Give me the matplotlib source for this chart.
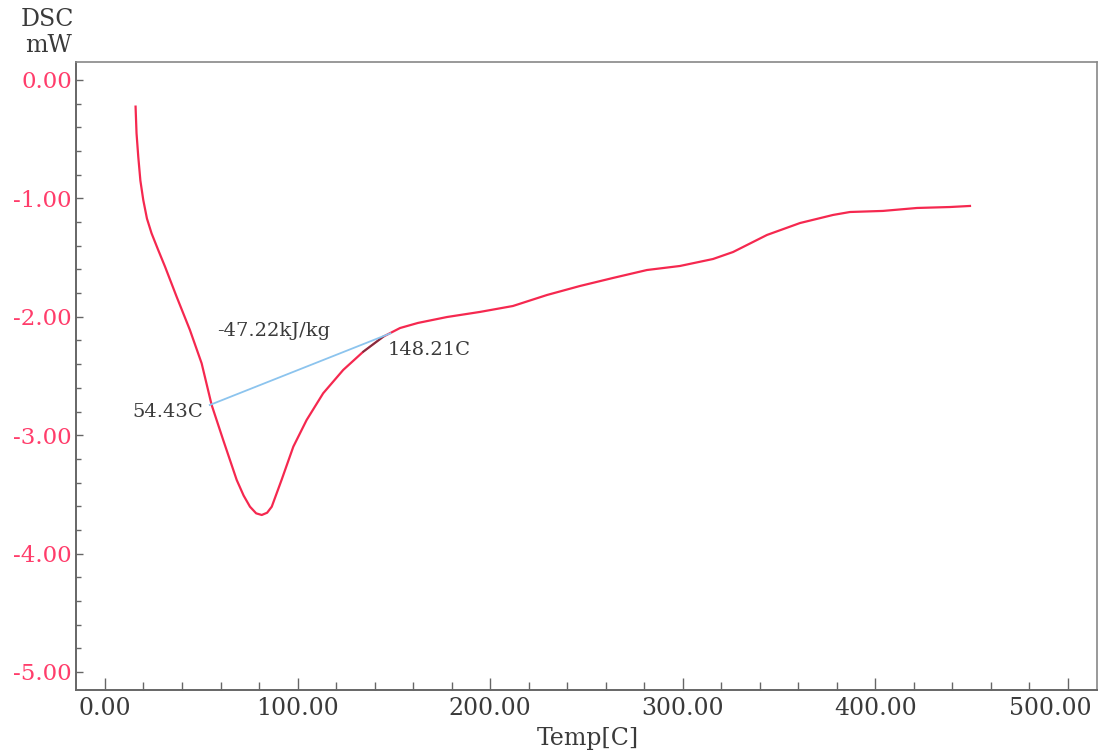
import matplotlib
matplotlib.use("Agg")
import matplotlib.pyplot as plt
from matplotlib.ticker import MultipleLocator, FormatStrFormatter
from matplotlib.transforms import ScaledTranslation
import numpy as np

# ---- data ----
temp = [15.9, 16.4, 17.3, 18.4, 19.9, 21.8, 24.2, 27.5, 31.2, 37.2, 44.1, 50.2,
        55.4, 61.4, 68.4, 72.0, 75.3, 78.5, 81.4, 84.2, 86.6, 91.7, 97.8, 104.7,
        113.3, 123.7, 134.1, 144.5, 153.2, 162.5, 177.6, 194.7, 211.8, 229.5,
        246.6, 263.8, 281.4, 298.5, 315.7, 326.1, 343.7, 360.9, 378.0, 386.8,
        403.9, 421.6, 438.7, 449.1]
dsc = [-0.225, -0.45, -0.648, -0.85, -1.014, -1.17, -1.295, -1.43, -1.577,
       -1.830, -2.111, -2.393, -2.745, -3.041, -3.378, -3.51, -3.604, -3.66,
       -3.674, -3.655, -3.604, -3.378, -3.097, -2.872, -2.646, -2.449, -2.295,
       -2.168, -2.095, -2.052, -2.002, -1.959, -1.909, -1.816, -1.740, -1.672,
       -1.605, -1.571, -1.512, -1.453, -1.309, -1.208, -1.140, -1.115, -1.106,
       -1.081, -1.073, -1.064]

base_t = [54.43, 148.21]
base_y = [-2.745, -2.14]
peak_label = "-47.22kJ/kg"
start_label = "54.43C"
end_label = "148.21C"

red = "#f5284f"
tick_red = "#ff3d6b"
txt = "#3a3a3a"
font = "DejaVu Serif"

fig = plt.figure(figsize=(10.99, 7.54), dpi=100)
ax = fig.add_axes([0.0692, 0.0849, 0.9289, 0.8329])

t = np.array(temp)
d = np.array(dsc)
ax.plot(t, d, color=red, lw=1.6, solid_joinstyle="round")
m = (t >= 133) & (t <= 150)
ax.plot(t[m], d[m], color="#333333", lw=1.4, alpha=0.6)
ax.plot(base_t, base_y, color="#8cc4ee", lw=1.3)

ax.set_xlim(-15, 515)
ax.set_ylim(-5.152, 0.152)

ax.xaxis.set_major_locator(MultipleLocator(100))
ax.xaxis.set_minor_locator(MultipleLocator(20))
ax.yaxis.set_major_locator(MultipleLocator(1))
ax.yaxis.set_minor_locator(MultipleLocator(0.2))
ax.xaxis.set_major_formatter(FormatStrFormatter("%.2f"))
ax.yaxis.set_major_formatter(FormatStrFormatter("%.2f"))

ax.tick_params(axis="x", which="major", direction="in", length=8.5, width=1,
               color="#666666", labelsize=17, labelcolor=txt, pad=5)
ax.tick_params(axis="x", which="minor", direction="in", length=5.5, width=1,
               color="#666666")
ax.tick_params(axis="y", which="major", direction="in", length=5, width=1,
               color="#666666", labelsize=16.5, labelcolor=tick_red, pad=3)
ax.tick_params(axis="y", which="minor", direction="in", length=3.5, width=1,
               color="#666666")
for lab in ax.get_xticklabels() + ax.get_yticklabels():
    lab.set_family(font)

for s in ["left", "bottom"]:
    ax.spines[s].set_color("#666666")
    ax.spines[s].set_linewidth(1.4)
for s in ["top", "right"]:
    ax.spines[s].set_color("#888888")
    ax.spines[s].set_linewidth(1.2)

ax.text(58.5, -2.12, peak_label, family=font, fontsize=14, color=txt,
        ha="left", va="center")
ax.text(51, -2.80, start_label, family=font, fontsize=14, color=txt,
        ha="right", va="center")
ax.text(147, -2.28, end_label, family=font, fontsize=14, color=txt,
        ha="left", va="center")

fig.text(47 / 1099, 1 - 20 / 754, "DSC", family=font, fontsize=17,
         color=txt, ha="center", va="center")
fig.text(49 / 1099, 1 - 46 / 754, "mW", family=font, fontsize=17,
         color=txt, ha="center", va="center")
fig.text(588 / 1099, 1 - 739 / 754, "Temp[C]", family=font, fontsize=17,
         color=txt, ha="center", va="center")

# shift the last x label left so it stays inside the figure, as in the reference
fig.canvas.draw()
for tick in ax.xaxis.get_major_ticks():
    if abs(tick.get_loc() - 500) < 1e-6:
        lab = tick.label1
        lab.set_transform(lab.get_transform() +
                          ScaledTranslation(-0.18, 0, fig.dpi_scale_trans))

fig.savefig("out.png", dpi=100)
